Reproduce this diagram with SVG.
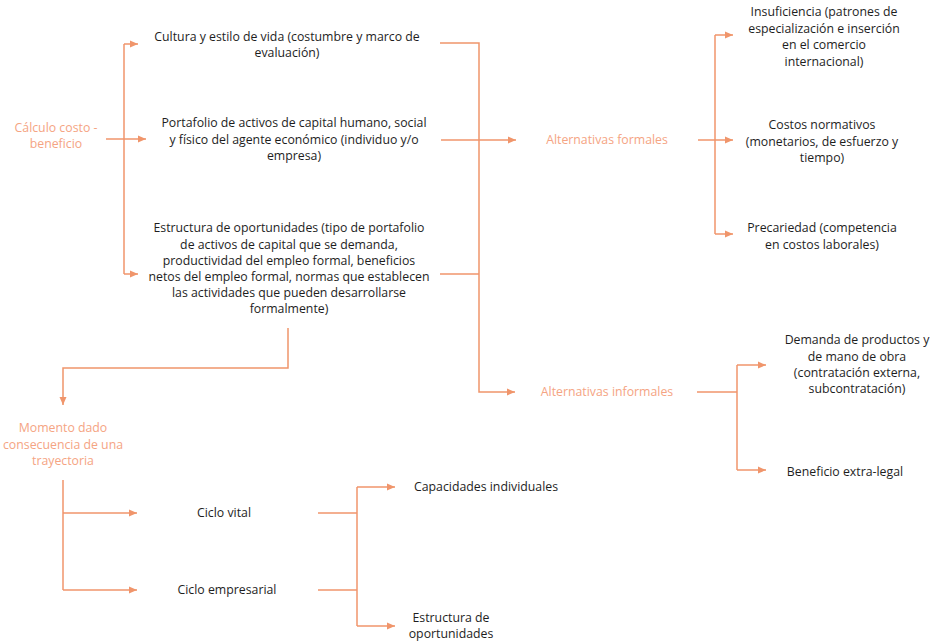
<svg xmlns="http://www.w3.org/2000/svg" width="932" height="643" viewBox="0 0 932 643">
<style>
.t{font-family:"Open Sans","Liberation Sans",sans-serif;font-size:12.3px;fill:#1e1e1e;text-anchor:middle}
.o{font-family:"Open Sans","Liberation Sans",sans-serif;font-size:12.3px;fill:#f5a483;text-anchor:middle}
.c{fill:none;stroke:#f0956b;stroke-width:1.5}
</style>
<defs>
<marker id="ah" markerUnits="userSpaceOnUse" markerWidth="9" markerHeight="8" refX="8" refY="4" orient="auto">
<path d="M0,0.5 L8,4 L0,7.5 z" fill="#f0956b"/>
</marker>
</defs>
<rect width="932" height="643" fill="#ffffff"/>
<g id="connectors">
<path class="c" d="M106,139 H146" marker-end="url(#ah)"/>
<path class="c" d="M124,44 V274"/>
<path class="c" d="M124,44 H138" marker-end="url(#ah)"/>
<path class="c" d="M124,274 H138" marker-end="url(#ah)"/>
<path class="c" d="M440,43 H479 V392 H515" marker-end="url(#ah)"/>
<path class="c" d="M441,140 H516" marker-end="url(#ah)"/>
<path class="c" d="M440,274 H479"/>
<path class="c" d="M698,140 H733" marker-end="url(#ah)"/>
<path class="c" d="M715,35 V234"/>
<path class="c" d="M715,35 H733" marker-end="url(#ah)"/>
<path class="c" d="M715,234 H733" marker-end="url(#ah)"/>
<path class="c" d="M697,392 H737"/>
<path class="c" d="M737,365 V470"/>
<path class="c" d="M737,365 H766" marker-end="url(#ah)"/>
<path class="c" d="M737,470 H766" marker-end="url(#ah)"/>
<path class="c" d="M288,328 V368 H63 V405" marker-end="url(#ah)"/>
<path class="c" d="M63,480 V590"/>
<path class="c" d="M63,513 H137" marker-end="url(#ah)"/>
<path class="c" d="M63,590 H137" marker-end="url(#ah)"/>
<path class="c" d="M318,513 H357"/>
<path class="c" d="M318,590 H357"/>
<path class="c" d="M357,487 V626"/>
<path class="c" d="M357,487 H395" marker-end="url(#ah)"/>
<path class="c" d="M357,626 H395" marker-end="url(#ah)"/>
</g>
<g id="calculo"><text class="o" x="56" y="132">Cálculo costo -</text><text class="o" x="56" y="148">beneficio</text></g>
<g id="cultura"><text class="t" x="287" y="41">Cultura y estilo de vida (costumbre y marco de</text><text class="t" x="287" y="57">evaluación)</text></g>
<g id="portafolio"><text class="t" x="294" y="127">Portafolio de activos de capital humano, social</text><text class="t" x="294" y="144">y físico del agente económico (individuo y/o</text><text class="t" x="294" y="160">empresa)</text></g>
<g id="estructura"><text class="t" x="289" y="232">Estructura de oportunidades (tipo de portafolio</text><text class="t" x="289" y="249">de activos de capital que se demanda,</text><text class="t" x="289" y="265">productividad del empleo formal, beneficios</text><text class="t" x="289" y="281">netos del empleo formal, normas que establecen</text><text class="t" x="289" y="297">las actividades que pueden desarrollarse</text><text class="t" x="289" y="313">formalmente)</text></g>
<g id="formales"><text class="o" x="607" y="144">Alternativas formales</text></g>
<g id="informales"><text class="o" x="607" y="396">Alternativas informales</text></g>
<g id="insuficiencia"><text class="t" x="824" y="16">Insuficiencia (patrones de</text><text class="t" x="824" y="33">especialización e inserción</text><text class="t" x="824" y="49">en el comercio</text><text class="t" x="824" y="66">internacional)</text></g>
<g id="costos"><text class="t" x="822" y="129">Costos normativos</text><text class="t" x="822" y="146">(monetarios, de esfuerzo y</text><text class="t" x="822" y="162">tiempo)</text></g>
<g id="precariedad"><text class="t" x="822" y="232">Precariedad (competencia</text><text class="t" x="822" y="249">en costos laborales)</text></g>
<g id="demanda"><text class="t" x="857" y="344">Demanda de productos y</text><text class="t" x="857" y="361">de mano de obra</text><text class="t" x="857" y="377">(contratación externa,</text><text class="t" x="857" y="393">subcontratación)</text></g>
<g id="beneficio"><text class="t" x="845" y="476">Beneficio extra-legal</text></g>
<g id="momento"><text class="o" x="63" y="432">Momento dado</text><text class="o" x="63" y="449">consecuencia de una</text><text class="o" x="63" y="465">trayectoria</text></g>
<g id="vital"><text class="t" x="224" y="517">Ciclo vital</text></g>
<g id="empresarial"><text class="t" x="227" y="594">Ciclo empresarial</text></g>
<g id="capacidades"><text class="t" x="486" y="491">Capacidades individuales</text></g>
<g id="estructura2"><text class="t" x="451" y="622">Estructura de</text><text class="t" x="451" y="638">oportunidades</text></g>
</svg>
